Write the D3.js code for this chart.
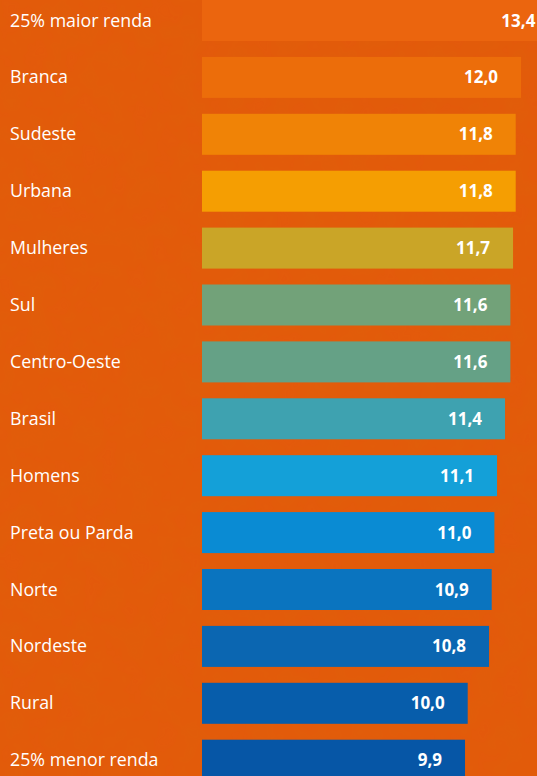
<!DOCTYPE html>
<html>
<head>
<meta charset="utf-8">
<script src="https://cdn.jsdelivr.net/npm/d3@7"></script>
<style>
  html, body { margin: 0; padding: 0; background: #e4590b; overflow: hidden; }
  svg { display: block; }
</style>
</head>
<body>
<svg id="chart"></svg>
<script>
var categories = ["25% maior renda", "Branca", "Sudeste", "Urbana", "Mulheres", "Sul", "Centro-Oeste",
    "Brasil", "Homens", "Preta ou Parda", "Norte", "Nordeste", "Rural", "25% menor renda"]
var values = [13.4, 12.0, 11.8, 11.8, 11.7, 11.6, 11.6, 11.4, 11.1, 11.0, 10.9, 10.8, 10.0, 9.9]
var colors = ["#eb650e", "#ec6d0a", "#f08306", "#f59e02", "#caa527", "#72a279", "#65a186",
    "#3ea2b0", "#14a0d8", "#0a8bd3", "#0a74bf", "#0b66b1", "#075dab", "#0656a6"]

function main(){
    var svgWidth = 537, svgHeight = 776
    var rowStep = 56.9, barHeight = 41

    var svg = d3.select('#chart')
        .attr('width', svgWidth)
        .attr('height', svgHeight)

    // subtle paper-like texture on background
    var defs = svg.append('defs')
    var filter = defs.append('filter').attr('id', 'paper')
    filter.append('feTurbulence')
        .attr('type', 'fractalNoise')
        .attr('baseFrequency', 0.04)
        .attr('numOctaves', 3)
        .attr('seed', 4)
    filter.append('feColorMatrix')
        .attr('type', 'matrix')
        .attr('values', '0 0 0 0 0.55  0 0 0 0 0.2  0 0 0 0 0  0 0 0 0.12 0')
    filter.append('feComposite').attr('in2', 'SourceGraphic').attr('operator', 'in')

    svg.append('rect')
        .attr('width', svgWidth).attr('height', svgHeight)
        .attr('fill', '#e4590b')
    svg.append('rect')
        .attr('width', svgWidth).attr('height', svgHeight)
        .attr('fill', '#e4590b')
        .attr('filter', 'url(#paper)')

    var xScale = d3.scaleLinear()
        .domain([0, 10])
        .range([201, 201 + 266.7])

    var yScale = d3.scaleBand()
        .domain(categories)
        .range([0, rowStep * categories.length])

    var rows = svg.selectAll('g.row')
        .data(categories)
        .enter()
        .append('g')
        .attr('class', 'row')
        .attr('transform', function(d){ return 'translate(0,' + yScale(d) + ')' })

    rows.append('rect')
        .attr('x', xScale(0) + 1)
        .attr('y', 0)
        .attr('height', barHeight)
        .attr('width', function(d, i){ return xScale(values[i]) - xScale(0) - 1 })
        .attr('fill', function(d, i){ return colors[i] })

    rows.append('text')
        .text(function(d){ return d })
        .attr('x', 10)
        .attr('y', barHeight / 2 + 6)
        .attr('fill', '#fff')
        .attr('font-family', 'Open Sans, Noto Sans, sans-serif')
        .attr('font-size', '17.8px')

    rows.append('text')
        .text(function(d, i){ return values[i].toFixed(1).replace('.', ',') })
        .attr('x', function(d, i){ return xScale(values[i]) - 23 })
        .attr('y', barHeight / 2 + 6)
        .attr('text-anchor', 'end')
        .attr('fill', '#fff')
        .attr('font-weight', 'bold')
        .attr('font-family', 'Open Sans, Noto Sans, sans-serif')
        .attr('font-size', '17px')
}
main()
</script>
</body>
</html>
